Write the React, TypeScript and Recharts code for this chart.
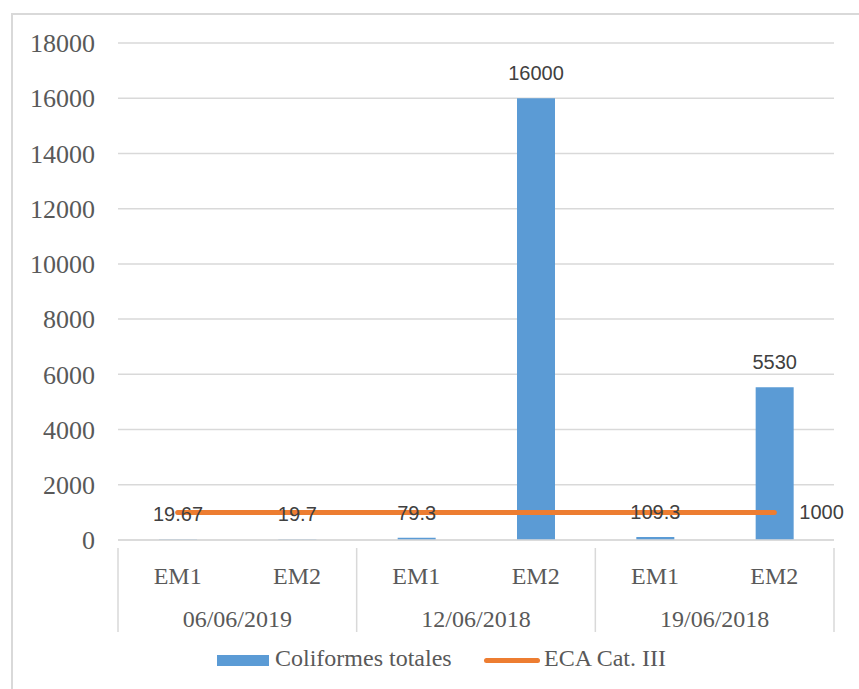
import React from "react";
import {
  ComposedChart,
  Bar,
  Line,
  XAxis,
  YAxis,
  CartesianGrid,
  LabelList,
  Legend,
} from "recharts";

const estaciones = ["EM1", "EM2", "EM1", "EM2", "EM1", "EM2"];
const fechas = ["06/06/2019", "06/06/2019", "12/06/2018", "12/06/2018", "19/06/2018", "19/06/2018"];
const coliformes = [19.67, 19.7, 79.3, 16000, 109.3, 5530];
const eca = [1000, 1000, 1000, 1000, 1000, 1000];
const yTicks = [0, 2000, 4000, 6000, 8000, 10000, 12000, 14000, 16000, 18000];

const data = estaciones.map((em, i) => ({
  em,
  fecha: fechas[i],
  coliformes: coliformes[i],
  eca: eca[i],
}));

const SERIF = "'Liberation Serif', 'Times New Roman', serif";
const SANS = "'Liberation Sans', Arial, sans-serif";
const BLUE = "#5B9BD5";
const ORANGE = "#ED7D31";
const GRID = "#d9d9d9";

// two-level category axis: EM label per bar, date + separators per pair
const renderXTick = (props: any) => {
  const { x, y, payload, index } = props;
  const half = payload.offset ?? 0;
  const top = y;
  const parts: React.ReactNode[] = [];
  parts.push(
    <text
      key="em"
      x={x}
      y={top + 36}
      textAnchor="middle"
      fontFamily={SERIF}
      fontSize={24}
      fill="#595959"
    >
      {payload.value}
    </text>
  );
  if (index % 2 === 0) {
    parts.push(
      <line key="sep" x1={x - half} x2={x - half} y1={top} y2={top + 84} stroke={GRID} strokeWidth={1.5} />
    );
    parts.push(
      <text
        key="date"
        x={x + half}
        y={top + 79}
        textAnchor="middle"
        fontFamily={SERIF}
        fontSize={24}
        fill="#595959"
      >
        {fechas[index]}
      </text>
    );
  }
  if (index === estaciones.length - 1) {
    parts.push(
      <line key="end" x1={x + half} x2={x + half} y1={top} y2={top + 84} stroke={GRID} strokeWidth={1.5} />
    );
  }
  return <g>{parts}</g>;
};

const renderBarLabel = (props: any) => {
  const { x, y, width, value } = props;
  return (
    <text
      x={x + width / 2}
      y={y - 18}
      textAnchor="middle"
      fontFamily={SANS}
      fontSize={20}
      fill="#404040"
    >
      {value}
    </text>
  );
};

const renderLineLabel = (props: any) => {
  const { x, y, value, index } = props;
  if (index !== eca.length - 1) return null;
  return (
    <text x={x + 25} y={y + 7} fontFamily={SANS} fontSize={20} fill="#404040">
      {value}
    </text>
  );
};

const renderLegend = () => (
  <div
    style={{
      position: "relative",
      height: 30,
      fontFamily: SERIF,
      fontSize: 24,
      color: "#595959",
    }}
  >
    <div style={{ position: "absolute", left: 217, top: 7, width: 52, height: 11, background: BLUE }} />
    <span style={{ position: "absolute", left: 275, top: -3, whiteSpace: "nowrap" }}>Coliformes totales</span>
    <div
      style={{ position: "absolute", left: 484, top: 10, width: 56, height: 5, background: ORANGE, borderRadius: 3 }}
    />
    <span style={{ position: "absolute", left: 544, top: -3, whiteSpace: "nowrap" }}>ECA Cat. III</span>
  </div>
);

export default function App() {
  return (
    <div style={{ position: "absolute", left: 0, top: 0, width: 859, height: 689, background: "#fff", overflow: "hidden" }}>
      <div
        style={{
          position: "absolute",
          left: 11,
          top: 13,
          width: 900,
          height: 700,
          borderLeft: `2px solid ${GRID}`,
          borderTop: `2px solid ${GRID}`,
        }}
      />
      <div style={{ position: "absolute", left: 0, top: 0 }}>
        <ComposedChart
          width={859}
          height={689}
          data={data}
          margin={{ top: 43, right: 25, bottom: 35, left: 0 }}
          barCategoryGap="34%"
        >
          <CartesianGrid vertical={false} stroke={GRID} strokeWidth={1.5} />
          <XAxis
            dataKey="em"
            height={84}
            axisLine={{ stroke: GRID, strokeWidth: 1.5 }}
            tickLine={false}
            interval={0}
            tick={renderXTick}
          />
          <YAxis
            width={118}
            domain={[0, 18000]}
            ticks={yTicks}
            axisLine={false}
            tickLine={false}
            tickSize={0}
            tickMargin={23}
            tick={{ fontFamily: SERIF, fontSize: 26, fill: "#595959" }}
          />
          <Bar dataKey="coliformes" name="Coliformes totales" fill={BLUE} barSize={38} isAnimationActive={false}>
            <LabelList dataKey="coliformes" content={renderBarLabel} />
          </Bar>
          <Line
            dataKey="eca"
            name="ECA Cat. III"
            stroke={ORANGE}
            strokeWidth={5}
            strokeLinecap="round"
            dot={false}
            activeDot={false}
            isAnimationActive={false}
          >
            <LabelList dataKey="eca" content={renderLineLabel} />
          </Line>
          <Legend
            content={renderLegend}
            wrapperStyle={{ position: "absolute", left: 0, top: 648, width: 859 }}
          />
        </ComposedChart>
      </div>
    </div>
  );
}
